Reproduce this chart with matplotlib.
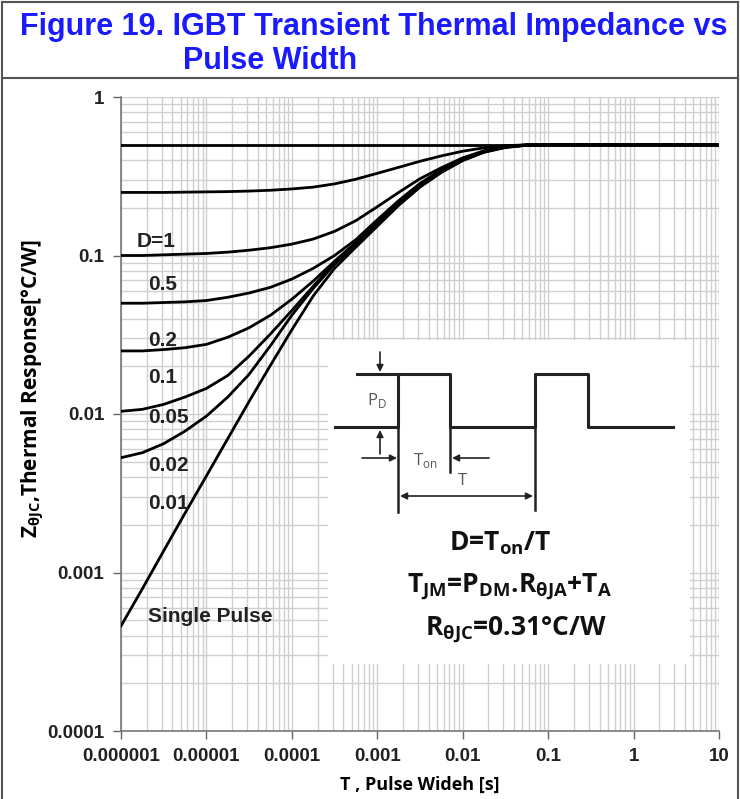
import matplotlib
matplotlib.use("Agg")
import matplotlib.pyplot as plt
from matplotlib.patches import Rectangle
from matplotlib.lines import Line2D
from matplotlib.ticker import LogLocator, NullFormatter

plt.rcParams["mathtext.fontset"] = "custom"
plt.rcParams["mathtext.rm"] = "Open Sans:bold"
plt.rcParams["mathtext.it"] = "Open Sans:bold"
plt.rcParams["mathtext.bf"] = "Open Sans:bold"
plt.rcParams["mathtext.sf"] = "Open Sans"

ARIAL = ["Liberation Sans", "DejaVu Sans"]
CAL = ["Open Sans", "DejaVu Sans"]

# pulse width grid [s], quarter decades
t_s = [1e-6, 1.78e-6, 3.16e-6, 5.62e-6, 1e-5, 1.78e-5, 3.16e-5, 5.62e-5,
       1e-4, 1.78e-4, 3.16e-4, 5.62e-4, 1e-3, 1.78e-3, 3.16e-3, 5.62e-3,
       1e-2, 1.78e-2, 3.16e-2, 5.62e-2, 0.1, 0.316, 1, 3.16, 10]
tail = [0.5] * 5

z_top = [0.5] * 25
z_c2 = [0.25, 0.25, 0.25, 0.251, 0.252, 0.253, 0.255, 0.258, 0.263, 0.27, 0.283, 0.303,
        0.33, 0.36, 0.393, 0.425, 0.455, 0.478, 0.493, 0.499] + tail
z_c3 = [0.1, 0.1, 0.101, 0.102, 0.103, 0.105, 0.108, 0.112, 0.118, 0.127, 0.142, 0.166,
        0.203, 0.25, 0.305, 0.358, 0.413, 0.458, 0.488, 0.499] + tail
z_c4 = [0.05, 0.05, 0.0505, 0.051, 0.052, 0.0545, 0.058, 0.063, 0.071, 0.083, 0.1, 0.126,
        0.168, 0.222, 0.285, 0.348, 0.408, 0.456, 0.486, 0.498] + tail
z_c5 = [0.025, 0.025, 0.0255, 0.0262, 0.0275, 0.0305, 0.035, 0.042, 0.053, 0.069, 0.092, 0.121,
        0.162, 0.216, 0.279, 0.343, 0.404, 0.453, 0.484, 0.497] + tail
z_c6 = [0.0104, 0.0107, 0.0115, 0.0128, 0.0145, 0.0175, 0.0232, 0.032, 0.045, 0.064, 0.09, 0.119,
        0.159, 0.213, 0.276, 0.34, 0.402, 0.451, 0.483, 0.497] + tail
z_c7 = [0.0053, 0.0057, 0.0065, 0.0078, 0.0097, 0.0128, 0.0178, 0.027, 0.042, 0.062, 0.088, 0.117,
        0.156, 0.21, 0.273, 0.337, 0.4, 0.45, 0.482, 0.497] + tail
z_single = [0.00046, 0.00079, 0.00137, 0.00237, 0.00407, 0.0070, 0.0120, 0.0203, 0.034, 0.0556, 0.083, 0.113,
            0.153, 0.207, 0.27, 0.334, 0.397, 0.448, 0.48, 0.496] + tail
curves = [z_top, z_c2, z_c3, z_c4, z_c5, z_c6, z_c7, z_single]

# curve labels (as printed on the chart) and where they sit
lab_txt = ["D=1", "0.5", "0.2", "0.1", "0.05", "0.02", "0.01", "Single Pulse"]
lab_x = [1.54e-6, 2.07e-6, 2.07e-6, 2.07e-6, 2.07e-6, 2.07e-6, 2.07e-6, 2.07e-6]
lab_y = [0.123, 0.066, 0.0293, 0.0169, 0.00957, 0.0047, 0.00274, 0.00053]

xt = [1e-6, 1e-5, 1e-4, 1e-3, 1e-2, 0.1, 1, 10]
xt_lab = ["0.000001", "0.00001", "0.0001", "0.001", "0.01", "0.1", "1", "10"]
yt = [1e-4, 1e-3, 1e-2, 0.1, 1]
yt_lab = ["0.0001", "0.001", "0.01", "0.1", "1"]

W, H = 740, 799
fig = plt.figure(figsize=(W / 100, H / 100), dpi=100)
ax = fig.add_axes([121 / W, 1 - 731 / H, 598 / W, 634 / H])
ax.set_xscale("log"); ax.set_yscale("log")
ax.set_xlim(1e-6, 10); ax.set_ylim(1e-4, 1)
ax.set_axisbelow(True)
for z in curves:
    ax.plot(t_s, z, color="black", lw=2.0, solid_joinstyle="round", zorder=3)
for s, x, y in zip(lab_txt, lab_x, lab_y):
    ax.text(x, y, s, fontsize=15, fontweight="bold", family=ARIAL, va="center", ha="left",
            color="#222222", zorder=4)

ax.set_xticks(xt, xt_lab)
ax.set_yticks(yt, yt_lab)
ax.xaxis.set_minor_locator(LogLocator(base=10, subs=range(2, 10), numticks=20))
ax.yaxis.set_minor_locator(LogLocator(base=10, subs=range(2, 10), numticks=20))
ax.xaxis.set_minor_formatter(NullFormatter()); ax.yaxis.set_minor_formatter(NullFormatter())
ax.grid(which="both", color="#cfcfcf", lw=1.0)
ax.tick_params(which="minor", length=0)
ax.tick_params(which="major", direction="out", length=6, width=1, color="#666666", pad=6)
for lb in ax.get_xticklabels() + ax.get_yticklabels():
    lb.set_family(ARIAL); lb.set_fontweight("bold"); lb.set_fontsize(13.5); lb.set_color("#222222")
for s in ["top", "right"]:
    ax.spines[s].set_visible(False)
for s in ["left", "bottom"]:
    ax.spines[s].set_color("#777777"); ax.spines[s].set_linewidth(1.2)

ax.set_xlabel("T , Pulse Wideh [s]", family=CAL, fontweight="bold", fontsize=13, labelpad=8)
ax.set_ylabel(r"Z$_{\mathrm{θJC}}$,Thermal Response[°C/W]", family=CAL, fontweight="bold",
              fontsize=15)
ax.yaxis.set_label_coords(-0.125, 0.54)

# inset: pulse diagram + formulas, drawn in pixel units of the box
ins = fig.add_axes([328 / W, 1 - 664 / H, 362 / W, 324 / H])
ins.set_xlim(328, 690); ins.set_ylim(664, 340)
ins.axis("off")
ins.add_patch(Rectangle((0, 0), 1, 1, transform=ins.transAxes, color="white", zorder=0))
ins.plot([335, 398, 398, 450, 450, 535, 535, 588, 588, 673],
         [427, 427, 374, 374, 427, 427, 374, 374, 427, 427], color="#222222", lw=2.2)
ins.plot([357, 398], [374, 374], color="#222222", lw=2.2)
for x0, y1 in [(398, 512), (450, 472), (535, 510)]:
    ins.plot([x0, x0], [427, y1], color="#222222", lw=1.8)
aprops = dict(arrowstyle="-|>", color="#222222", lw=1.2, mutation_scale=10, shrinkA=0, shrinkB=0)
ins.annotate("", xy=(380, 372), xytext=(380, 352), arrowprops=aprops)
ins.annotate("", xy=(380, 430), xytext=(380, 454), arrowprops=aprops)
ins.annotate("", xy=(397, 458), xytext=(362, 458), arrowprops=aprops)
ins.annotate("", xy=(452, 458), xytext=(489, 458), arrowprops=aprops)
ins.annotate("", xy=(400, 496), xytext=(533, 496),
             arrowprops=dict(arrowstyle="<|-|>", color="#222222", lw=1.2, mutation_scale=10,
                             shrinkA=0, shrinkB=0))
grey = "#555555"
ins.text(377, 400, r"P$_{\mathsf{D}}$", family=CAL, fontsize=12, color=grey, ha="center", va="center")
ins.text(425, 461, r"T$_{\mathsf{on}}$", family=CAL, fontsize=12, color=grey, ha="center", va="center")
ins.text(462, 481, "T", family=CAL, fontsize=12, color=grey, ha="center", va="center")
ins.text(500, 543, r"D=T$_{\mathrm{on}}$/T", family=CAL, fontweight="bold", fontsize=19,
         ha="center", va="center", color="#111111")
ins.text(510, 586, r"T$_{\mathrm{JM}}$=P$_{\mathrm{DM}}$.R$_{\mathrm{θJA}}$+T$_{\mathrm{A}}$", family=CAL,
         fontweight="bold", fontsize=19, ha="center", va="center", color="#111111")
ins.text(516, 629, r"R$_{\mathrm{θJC}}$=0.31°C/W", family=CAL, fontweight="bold", fontsize=19,
         ha="center", va="center", color="#111111")

# title + frame
fig.text(20 / W, 1 - 27 / H, "Figure 19. IGBT Transient Thermal Impedance vs", family=ARIAL,
         fontweight="bold", fontsize=22, color="#1a1aff", ha="left", va="center")
fig.text(183 / W, 1 - 61 / H, "Pulse Width", family=ARIAL, fontweight="bold", fontsize=22,
         color="#1a1aff", ha="left", va="center")
fc = "#555555"
fig.add_artist(Line2D([2 / W, 2 / W], [0, 1 - 2 / H], color=fc, lw=1.5))
fig.add_artist(Line2D([738 / W, 738 / W], [0, 1 - 2 / H], color=fc, lw=1.5))
fig.add_artist(Line2D([2 / W, 738 / W], [1 - 2 / H, 1 - 2 / H], color=fc, lw=1.5))
fig.add_artist(Line2D([2 / W, 738 / W], [1 - 78 / H, 1 - 78 / H], color=fc, lw=1.5))

fig.savefig("out.png", dpi=100)
